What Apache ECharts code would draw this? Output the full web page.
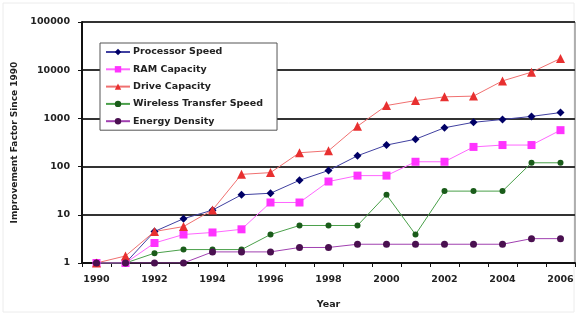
<!DOCTYPE html>
<html>
<head>
<meta charset="utf-8">
<script src="https://cdn.jsdelivr.net/npm/echarts@6/dist/echarts.min.js"></script>
<style>
  html, body { margin: 0; padding: 0; background: #fff; }
  #chart { width: 577px; height: 315px; }
</style>
</head>
<body>
<div id="chart"></div>
<script>
var years = ['1990', '1991', '1992', '1993', '1994', '1995', '1996', '1997', '1998',
  '1999', '2000', '2001', '2002', '2003', '2004', '2005', '2006'];
var processorSpeed = [1, 1, 4.5, 8.3, 12.5, 26, 28, 52, 83, 168, 280, 370, 640, 830, 950, 1100, 1320];
var ramCapacity = [1, 1, 2.6, 3.9, 4.3, 5, 18, 18, 49, 65, 65, 126, 126, 256, 280, 280, 570];
var driveCapacity = [1, 1.4, 4.5, 5.7, 12.6, 69, 75, 194, 213, 690, 1850, 2340, 2800, 2900, 6000, 9100, 17500];
var wirelessSpeed = [1, 1, 1.6, 1.9, 1.9, 1.9, 3.9, 6, 6, 6, 26, 3.9, 31, 31, 31, 120, 120];
var energyDensity = [1, 1, 1, 1, 1.7, 1.7, 1.7, 2.1, 2.1, 2.45, 2.45, 2.45, 2.45, 2.45, 2.45, 3.2, 3.2];

var font = 'DejaVu Sans';

function line(name, data, color, lineColor, symbol, size) {
  return {
    name: name,
    type: 'line',
    data: data,
    symbol: symbol,
    symbolSize: size,
    itemStyle: { color: color },
    lineStyle: { color: lineColor, width: 1 },
    emphasis: { disabled: true }
  };
}

var chart = echarts.init(document.getElementById('chart'));
var option = {
  animation: false,
  textStyle: { fontFamily: font },
  // faint outer frame of the chart area
  graphic: [{
    type: 'rect', shape: { x: 3, y: 3, width: 571, height: 309 },
    style: { fill: null, stroke: '#ececec', lineWidth: 1 }, silent: true, z: -1
  }],
  grid: { left: 82, right: 2, top: 22, bottom: 48, show: true, borderColor: '#666', borderWidth: 1 },
  legend: {
    orient: 'vertical',
    left: 100,
    top: 43,
    itemGap: 7.3,
    itemWidth: 24,
    itemHeight: 8,
    padding: [4, 14, 4, 5],
    borderColor: '#555',
    borderWidth: 1,
    backgroundColor: '#fff',
    textStyle: { fontFamily: font, fontSize: 9.5, color: '#222', fontWeight: 'bold', padding: [0, 0, 0, -2] },
    data: ['Processor Speed', 'RAM Capacity', 'Drive Capacity', 'Wireless Transfer Speed', 'Energy Density']
  },
  xAxis: {
    type: 'category',
    data: years,
    boundaryGap: true,
    name: 'Year',
    nameLocation: 'middle',
    nameGap: 37,
    nameTextStyle: { fontSize: 9.5, fontWeight: 'bold', color: '#222' },
    axisLine: { lineStyle: { color: '#111', width: 2 } },
    axisTick: { show: true, interval: 0, length: 4, lineStyle: { color: '#111' } },
    axisLabel: { interval: 1, fontSize: 9.5, fontWeight: 'bold', color: '#222', margin: 12 }
  },
  yAxis: {
    type: 'log',
    logBase: 10,
    min: 1,
    max: 100000,
    name: 'Improvement Factor Since 1990',
    nameLocation: 'middle',
    nameGap: 60,
    nameTextStyle: { fontSize: 9, fontWeight: 'bold', color: '#222' },
    axisLine: { show: true, lineStyle: { color: '#111', width: 2 } },
    axisTick: { show: true, length: 4, lineStyle: { color: '#111' } },
    axisLabel: { fontSize: 9.5, fontWeight: 'bold', color: '#222', margin: 12,
      formatter: function (v) { return String(Math.round(v)); } },
    splitLine: { show: true, lineStyle: { color: '#333', width: 2 } }
  },
  series: [
    line('Processor Speed', processorSpeed, '#000066', '#4040a0', 'diamond', 8),
    line('RAM Capacity', ramCapacity, '#ff33ff', '#ff66ff', 'rect', 8),
    line('Drive Capacity', driveCapacity, '#e83030', '#f07070', 'triangle', 9),
    line('Wireless Transfer Speed', wirelessSpeed, '#1a5c1a', '#4aa04a', 'circle', 6),
    line('Energy Density', energyDensity, '#4a1050', '#a040b0', 'circle', 7)
  ]
};
chart.setOption(option);
</script>
</body>
</html>
